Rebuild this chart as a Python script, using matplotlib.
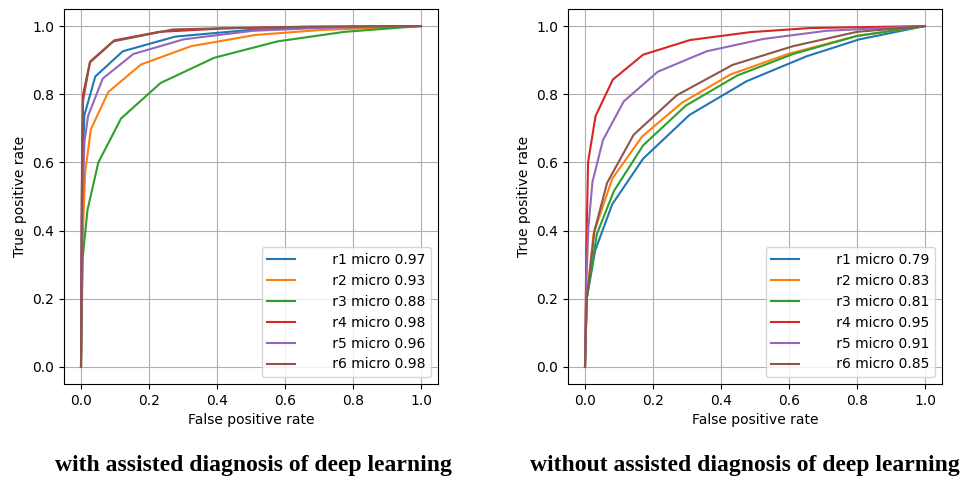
import matplotlib
matplotlib.use('Agg')
import matplotlib.pyplot as plt

# ROC points, with assisted diagnosis
with_fpr = {
	'r1': [0, 0.003, 0.010, 0.042, 0.123, 0.277, 0.49, 0.70, 1.0],
	'r2': [0, 0.004, 0.012, 0.029, 0.080, 0.176, 0.324, 0.514, 0.70, 1.0],
	'r3': [0, 0.005, 0.019, 0.051, 0.118, 0.234, 0.392, 0.578, 0.775, 1.0],
	'r4': [0, 0.003, 0.006, 0.027, 0.098, 0.23, 0.42, 0.65, 1.0],
	'r5': [0, 0.004, 0.010, 0.021, 0.064, 0.154, 0.302, 0.505, 0.72, 1.0],
	'r6': [0, 0.003, 0.006, 0.026, 0.095, 0.27, 0.48, 0.70, 1.0],
}
with_tpr = {
	'r1': [0, 0.55, 0.739, 0.852, 0.926, 0.969, 0.988, 0.996, 1.0],
	'r2': [0, 0.35, 0.569, 0.697, 0.806, 0.887, 0.941, 0.974, 0.988, 1.0],
	'r3': [0, 0.32, 0.46, 0.60, 0.729, 0.833, 0.907, 0.955, 0.983, 1.0],
	'r4': [0, 0.60, 0.80, 0.896, 0.958, 0.983, 0.993, 0.998, 1.0],
	'r5': [0, 0.45, 0.66, 0.737, 0.846, 0.918, 0.961, 0.986, 0.995, 1.0],
	'r6': [0, 0.55, 0.78, 0.893, 0.955, 0.99, 0.995, 0.998, 1.0],
}
with_auc = {'r1': 0.97, 'r2': 0.93, 'r3': 0.88, 'r4': 0.98, 'r5': 0.96, 'r6': 0.98}

# without assisted diagnosis
without_fpr = {
	'r1': [0, 0.005, 0.030, 0.080, 0.171, 0.307, 0.475, 0.651, 0.807, 1.0],
	'r2': [0, 0.005, 0.025, 0.080, 0.168, 0.285, 0.428, 0.597, 0.80, 1.0],
	'r3': [0, 0.005, 0.035, 0.085, 0.171, 0.297, 0.448, 0.612, 0.80, 1.0],
	'r4': [0, 0.004, 0.009, 0.031, 0.082, 0.171, 0.309, 0.485, 0.66, 1.0],
	'r5': [0, 0.004, 0.010, 0.022, 0.053, 0.114, 0.214, 0.358, 0.524, 0.709, 1.0],
	'r6': [0, 0.005, 0.028, 0.065, 0.143, 0.270, 0.434, 0.612, 0.80, 1.0],
}
without_tpr = {
	'r1': [0, 0.2, 0.342, 0.477, 0.611, 0.739, 0.838, 0.911, 0.961, 1.0],
	'r2': [0, 0.2, 0.39, 0.552, 0.676, 0.775, 0.858, 0.918, 0.971, 1.0],
	'r3': [0, 0.2, 0.39, 0.516, 0.650, 0.767, 0.855, 0.918, 0.971, 1.0],
	'r4': [0, 0.35, 0.60, 0.736, 0.843, 0.916, 0.959, 0.982, 0.994, 1.0],
	'r5': [0, 0.25, 0.41, 0.543, 0.666, 0.779, 0.866, 0.926, 0.962, 0.986, 1.0],
	'r6': [0, 0.2, 0.40, 0.540, 0.681, 0.797, 0.886, 0.941, 0.983, 1.0],
}
without_auc = {'r1': 0.79, 'r2': 0.83, 'r3': 0.81, 'r4': 0.95, 'r5': 0.91, 'r6': 0.85}

captions = ['with assisted diagnosis of deep learning', 'without assisted diagnosis of deep learning']

fig = plt.figure(figsize=(9.69, 4.78), dpi=100)
axL = fig.add_axes([64/969., 94/478., 374/969., 375/478.])
axR = fig.add_axes([568/969., 94/478., 374/969., 375/478.])

for ax, fpr, tpr, auc in [(axL, with_fpr, with_tpr, with_auc), (axR, without_fpr, without_tpr, without_auc)]:
	for r in fpr:
		ax.plot(fpr[r], tpr[r], label='      %s micro %.2f' % (r, auc[r]))
	ax.set_xlabel('False positive rate')
	ax.set_ylabel('True positive rate')
	ax.grid(True)
	ax.legend(loc='lower right')

fig.text(253/969., 1 - 465/478., captions[0], ha='center', va='center',
	fontsize=17, fontweight='bold', family='Liberation Serif')
fig.text(745/969., 1 - 465/478., captions[1], ha='center', va='center',
	fontsize=17, fontweight='bold', family='Liberation Serif')

fig.savefig('out.png', dpi=100)
